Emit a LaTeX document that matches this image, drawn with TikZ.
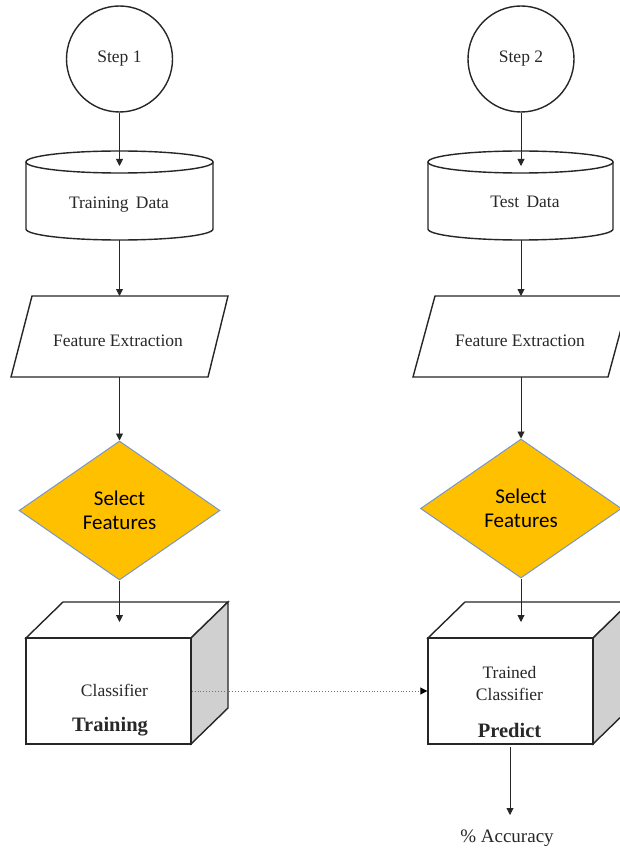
\documentclass[tikz,border=0pt]{standalone}
\usepackage{fontspec}
\setmainfont{Liberation Serif}
\newfontfamily\calfont{Carlito}
\usetikzlibrary{shapes.geometric,arrows.meta}
\definecolor{txtc}{RGB}{40,40,40}
\definecolor{gold}{RGB}{255,192,0}
\definecolor{dline}{RGB}{120,150,200}
\definecolor{sideg}{RGB}{208,208,208}
\begin{document}
\begin{tikzpicture}[x=1pt,y=-1pt,
  outl/.style={draw=black!85,line width=1.4pt},
  txt/.style={text=txtc,inner sep=0pt,font=\rmfamily\fontsize{17.5}{20}\selectfont},
  boldtxt/.style={text=txtc,inner sep=0pt,font=\rmfamily\fontsize{20.5}{23}\selectfont\bfseries},
  stepnode/.style={circle,outl,minimum size=106pt,inner sep=0pt,text=txtc,font=\rmfamily\fontsize{17.5}{20}\selectfont},
  selnode/.style={diamond,draw=dline,line width=1pt,fill=gold,minimum width=201pt,minimum height=139pt,inner sep=0pt,align=center,font=\calfont\fontsize{21}{24}\selectfont},
  arr/.style={draw=black!85,line width=0.9pt,-{Triangle[length=7pt,width=7pt]}},
  darr/.style={draw=black!55,line width=0.9pt,dotted,-{Triangle[length=7pt,width=7pt,color=black]}}]
\clip (0,0) rectangle (620,850);
\fill[white] (0,0) rectangle (620,850);

% ---------- left column ----------
\node[stepnode] (s1) at (119.5,59) {Step 1};
% cylinder
\draw[outl] (119.5,162) ellipse [x radius=93.5pt, y radius=11pt];
\draw[outl] (26,162) -- (26,229) arc[start angle=180,end angle=360,x radius=93.5pt,y radius=11pt] -- (213,162);
\node[txt] (td1) at (119,205) {Training\ \,Data};
\coordinate (td1top) at (119.5,166);
\coordinate (td1bot) at (119.5,240);
% parallelogram
\draw[outl] (32,296) -- (228,296) -- (208,377) -- (11,377) -- cycle;
\node[txt] (fe1) at (118,341) {Feature Extraction};
\coordinate (fe1top) at (119.5,296);
\coordinate (fe1bot) at (119.5,377);
% diamond
\node[selnode] (sf1) at (119.5,510.5) {Select\\Features};
% cube
\draw[outl] (26,638) -- (63,602) -- (228,602) -- (191,638) -- cycle;
\draw[outl,fill=sideg] (191,638) -- (228,602) -- (228,708) -- (191,744) -- cycle;
\node[outl,minimum width=165pt,minimum height=106pt,inner sep=0pt] (cl1) at (108.5,691) {};
\node[txt] (cl1a) at (114.5,690) {Classifier};
\node[boldtxt] (cl1b) at (110,727) {Training};
\coordinate (cl1top) at (119.5,622);

% ---------- right column ----------
\node[stepnode] (s2) at (521,59) {Step 2};
\draw[outl] (520.5,162) ellipse [x radius=92.5pt, y radius=11pt];
\draw[outl] (428,162) -- (428,229) arc[start angle=180,end angle=360,x radius=92.5pt,y radius=11pt] -- (613,162);
\node[txt] (td2) at (525,202) {Test\ \,Data};
\coordinate (td2top) at (521,166);
\coordinate (td2bot) at (521,240);
\draw[outl] (435,296) -- (630,296) -- (608,377) -- (413,377) -- cycle;
\node[txt] (fe2) at (520,341) {Feature Extraction};
\coordinate (fe2top) at (521,296);
\coordinate (fe2bot) at (521,377);
\node[selnode] (sf2) at (521,508.5) {Select\\Features};
\draw[outl] (428,638) -- (465,602) -- (630,602) -- (593,638) -- cycle;
\draw[outl,fill=sideg] (593,638) -- (630,602) -- (630,708) -- (593,744) -- cycle;
\node[outl,minimum width=165pt,minimum height=106pt,inner sep=0pt] (cl2) at (510.5,691) {};
\node[txt,align=center,font=\rmfamily\fontsize{17.5}{22}\selectfont] (cl2a) at (509.5,684) {Trained\\Classifier};
\node[boldtxt] (cl2b) at (509.5,730) {Predict};
\coordinate (cl2top) at (521,622);
\coordinate (accA) at (510,747);
\node[txt,font=\rmfamily\fontsize{19}{22}\selectfont] (acc) at (507,838) {\%\ Accuracy};
\coordinate (accB) at (510,815);

% ---------- connectors ----------
\draw[arr] (s1) -- (td1top);
\draw[arr] (td1bot) -- (fe1top);
\draw[arr] (fe1bot) -- (sf1.north);
\draw[arr] (sf1.south) -- (cl1top);
\draw[arr] (s2) -- (td2top);
\draw[arr] (td2bot) -- (fe2top);
\draw[arr] (fe2bot) -- (sf2.north);
\draw[arr] (sf2.south) -- (cl2top);
\draw[darr] (cl1.east) -- (cl2.west);
\draw[arr] (accA) -- (accB);
\end{tikzpicture}
\end{document}
